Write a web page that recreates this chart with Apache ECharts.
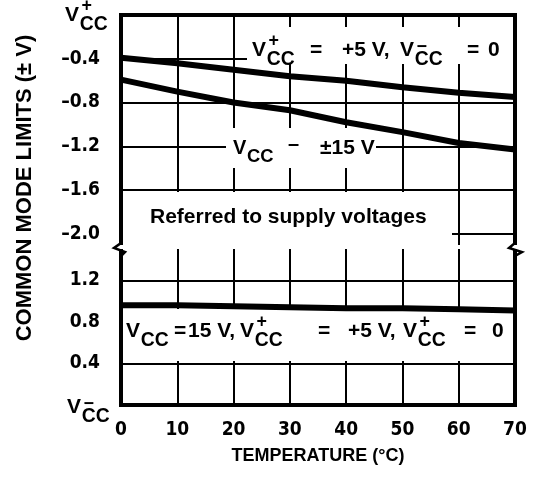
<!DOCTYPE html>
<html><head><meta charset="utf-8">
<script src="https://cdn.jsdelivr.net/npm/echarts@6/dist/echarts.min.js"></script>
<style>html,body{margin:0;padding:0;background:#fff}#c{width:536px;height:494px}</style>
</head><body><div id="c"></div>
<script>
// ---- data ----
const temperatures = [0, 10, 20, 30, 40, 50, 60, 70];
const limitPlus5V = [-0.39, -0.44, -0.50, -0.56, -0.60, -0.66, -0.71, -0.75];   // V+CC=+5V, V-CC=0 (referred to V+CC)
const limitPm15V = [-0.59, -0.70, -0.80, -0.87, -0.98, -1.07, -1.17, -1.23];   // VCC=±15V (referred to V+CC)
const limitNeg = [0.96, 0.96, 0.95, 0.94, 0.93, 0.93, 0.92, 0.91];              // referred to V-CC
const xTickValues = [0, 10, 20, 30, 40, 50, 60, 70];
const topTickValues = [0, -0.4, -0.8, -1.2, -1.6, -2.0];
const topLabelValues = [-0.4, -0.8, -1.2, -1.6, -2.0];
const bottomTickValues = [0, 0.4, 0.8, 1.2];
const bottomLabelValues = [0.4, 0.8, 1.2];

const FAM = '"Liberation Sans", Arial, Helvetica, sans-serif';
const NARROW = '"Liberation Sans Narrow", "DejaVu Sans Condensed", "Liberation Sans", sans-serif';

function pairs(xs, ys) { return xs.map((x, i) => [x, ys[i]]); }

function txt(x, y, s, size, opts) {
  return {
    type: 'text', x: x, y: y, z: 10,
    style: Object.assign({ text: s, font: 'bold ' + size + 'px ' + FAM, fill: '#000', align: 'left', verticalAlign: 'middle' }, opts || {})
  };
}
function vcc(x, cy, size, sign) {
  const els = [txt(x, cy, 'V', size)];
  const ccSize = size * 0.92;
  const ccX = x + size * 0.7;
  els.push(txt(ccX, cy + size * 0.45, 'CC', ccSize));
  if (sign) {
    const sx = ccX + ccSize * 0.36;
    const sy = sign === '+' ? cy - size * 0.42 : cy - size * 0.12;
    els.push(txt(sx, sy, sign === '+' ? '+' : '\u2212', size * 0.85, { align: 'center' }));
  }
  return els;
}
function whiteBox(x, y, w, h) {
  return { type: 'rect', z: 1, shape: { x: x, y: y, width: w, height: h }, style: { fill: '#fff' } };
}

const GL = 121, GR = 515, GT = 15, GS = 247, GB = 405;

const graphics = [
  whiteBox(247, 27, GR - 2 - 247, 37),
  whiteBox(226, 128, 150, 40),
  whiteBox(GL + 2, 192, 452 - GL - 2, GS - 192),
  whiteBox(GL + 2, 309, GR - GL - 4, 52),
  // axis break seam
  { type: 'rect', z: 8, shape: { x: GL - 3, y: GS - 2, width: GR - GL + 6, height: 4 }, style: { fill: '#fff' } },
  { type: 'polyline', z: 9, shape: { points: [[GL, GS - 9], [GL, GS - 4], [GL - 7, GS + 1], [GL + 4, GS + 5], [GL, GS + 9], [GL, GS + 13]] }, style: { stroke: '#000', lineWidth: 2.5, fill: null } },
  { type: 'polyline', z: 9, shape: { points: [[GR, GS - 9], [GR, GS - 4], [GR - 6, GS + 1], [GR + 7, GS + 5], [GR, GS + 9], [GR, GS + 13]] }, style: { stroke: '#000', lineWidth: 2.5, fill: null } },
  // axis title
  txt(25, 188, 'COMMON MODE LIMITS (\u00B1 V)', 22, { align: 'center' })
];
graphics[graphics.length - 1].rotation = Math.PI / 2;

// V+CC / V-CC end labels on the y axis
graphics.push(...vcc(65, 15, 21, '+'));
graphics.push(...vcc(67, 407, 21, '-'));
// annotations
graphics.push(...vcc(252, 50, 21, '+'));
graphics.push(txt(310, 50, '=', 21));
graphics.push(txt(342, 50, '+5 V,', 21));
graphics.push(...vcc(400, 50, 21, '-'));
graphics.push(txt(467, 50, '=', 21));
graphics.push(txt(488, 50, '0', 21));

graphics.push(...vcc(233, 148, 20, ''));
graphics.push(txt(288, 144, '\u2013', 20));
graphics.push(txt(320, 148, '\u00B115 V', 21));

graphics.push(txt(150, 217, 'Referred to supply voltages', 21));

graphics.push(...vcc(126, 331, 21, ''));
graphics.push(txt(174, 331, '=', 21));
graphics.push(txt(188, 331, '15 V,', 21));
graphics.push(...vcc(240, 331, 21, '+'));
graphics.push(txt(318, 331, '=', 21));
graphics.push(txt(348, 331, '+5 V,', 21));
graphics.push(...vcc(403, 331, 21, '+'));
graphics.push(txt(464, 331, '=', 21));
graphics.push(txt(492, 331, '0', 21));

const gridLine = { show: true, lineStyle: { color: '#000', width: 2 } };
const yLabel = { fontFamily: NARROW, fontWeight: 'bold', fontSize: 19, color: '#000', margin: 21,
  formatter: v => (Math.abs(v) < 1e-9 ? '' : (v < 0 ? '\u2013' + Math.abs(v).toFixed(1) : v.toFixed(1))) };

const chart = echarts.init(document.getElementById('c'), null, { renderer: 'canvas' });
chart.setOption({
  animation: false,
  backgroundColor: '#fff',
  grid: [
    { left: GL, top: GT, width: GR - GL, height: GS - GT, show: true, borderColor: '#000', borderWidth: 4 },
    { left: GL, top: GS, width: GR - GL, height: GB - GS, show: true, borderColor: '#000', borderWidth: 4 }
  ],
  xAxis: [
    { gridIndex: 0, type: 'value', min: 0, max: 70, interval: 10, axisLine: { show: false }, axisTick: { show: false }, axisLabel: { show: false }, splitLine: gridLine },
    { gridIndex: 1, type: 'value', min: 0, max: 70, interval: 10, axisLine: { show: false }, axisTick: { show: false }, splitLine: gridLine,
      axisLabel: { fontFamily: NARROW, fontWeight: 'bold', fontSize: 19, color: '#000', margin: 16 },
      name: 'TEMPERATURE (\u00B0C)', nameLocation: 'middle', nameGap: 42,
      nameTextStyle: { fontFamily: FAM, fontWeight: 'bold', fontSize: 18, color: '#000' } }
  ],
  yAxis: [
    { gridIndex: 0, type: 'value', min: -2.12, max: 0, axisLine: { show: false },
      axisTick: { show: false, customValues: topTickValues },
      axisLabel: Object.assign({ customValues: topLabelValues }, yLabel), splitLine: gridLine },
    { gridIndex: 1, type: 'value', min: 0, max: 1.52, axisLine: { show: false },
      axisTick: { show: false, customValues: bottomTickValues },
      axisLabel: Object.assign({ customValues: bottomLabelValues }, yLabel), splitLine: gridLine }
  ],
  series: [
    { type: 'line', xAxisIndex: 0, yAxisIndex: 0, data: pairs(temperatures, limitPlus5V), showSymbol: false, lineStyle: { color: '#000', width: 6 }, z: 5 },
    { type: 'line', xAxisIndex: 0, yAxisIndex: 0, data: pairs(temperatures, limitPm15V), showSymbol: false, lineStyle: { color: '#000', width: 6 }, z: 5 },
    { type: 'line', xAxisIndex: 1, yAxisIndex: 1, data: pairs(temperatures, limitNeg), showSymbol: false, lineStyle: { color: '#000', width: 6 }, z: 5 }
  ],
  graphic: graphics
});
</script>
</body></html>
